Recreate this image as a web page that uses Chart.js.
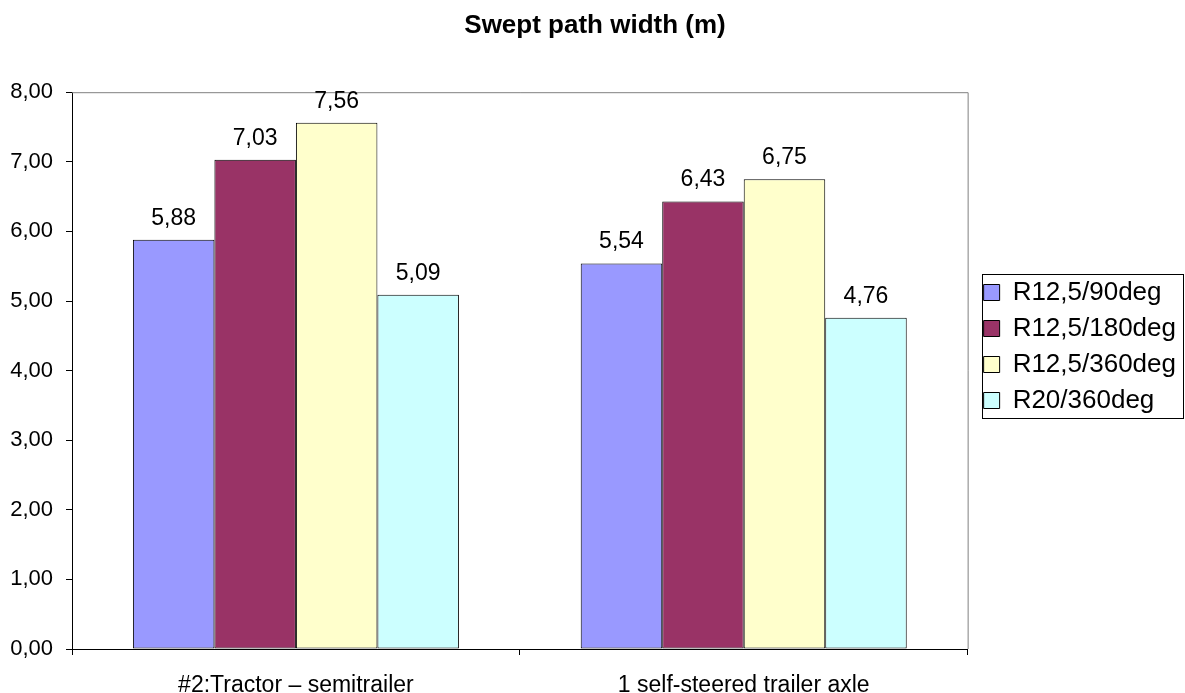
<!DOCTYPE html>
<html>
<head>
<meta charset="utf-8">
<script src="https://cdn.jsdelivr.net/npm/chart.js@4.4.0/dist/chart.umd.min.js"></script>
<style>
  html, body { margin: 0; padding: 0; background: #fff; }
  #wrap { width: 1185px; height: 693px; }
</style>
</head>
<body>
<div id="wrap"><canvas id="chart" width="1185" height="693"></canvas></div>
<script>
// chart data
const categories = ['#2:Tractor \u2013 semitrailer', '1 self-steered trailer axle'];
const seriesNames = ['R12,5/90deg', 'R12,5/180deg', 'R12,5/360deg', 'R20/360deg'];
const seriesColors = ['#9999FF', '#993366', '#FFFFCC', '#CCFFFF'];
const r125_90 = [5.88, 5.54];
const r125_180 = [7.03, 6.43];
const r125_360 = [7.56, 6.75];
const r20_360 = [5.09, 4.76];
const yTicks = [0, 1, 2, 3, 4, 5, 6, 7, 8];

const seriesValues = [r125_90, r125_180, r125_360, r20_360];
const FONT = "'Liberation Sans', Arial, sans-serif";
const fmt = v => v.toFixed(2).replace('.', ',');

// value labels above each bar
const valueLabels = {
    id: 'valueLabels',
    afterDatasetsDraw(chart) {
        const { ctx } = chart;
        ctx.save();
        ctx.font = '23px ' + FONT;
        ctx.fillStyle = '#000';
        ctx.textAlign = 'center';
        ctx.textBaseline = 'alphabetic';
        chart.data.datasets.forEach((ds, i) => {
            chart.getDatasetMeta(i).data.forEach((bar, j) => {
                ctx.fillText(fmt(ds.data[j]), bar.x, bar.y - 15);
            });
        });
        ctx.restore();
    }
};

// gray frame on top/right of plot, box round the legend
const frame = {
    id: 'frame',
    afterLayout(chart) {
        // small gap between plot and legend
        if (chart.legend) { chart.legend.left += 6; chart.legend.right += 6; }
    },
    beforeDatasetsDraw(chart) {
        const { ctx, chartArea: a } = chart;
        ctx.save();
        ctx.strokeStyle = '#808080';
        ctx.lineWidth = 1;
        ctx.beginPath();
        ctx.moveTo(a.left, a.top + 0.5);
        ctx.lineTo(a.right + 0.5, a.top + 0.5);
        ctx.lineTo(a.right + 0.5, a.bottom);
        ctx.stroke();
        ctx.restore();
    },
    afterDraw(chart) {
        const lg = chart.legend;
        if (!lg || !lg.legendHitBoxes.length) return;
        let x0 = Infinity, x1 = -Infinity, y0 = Infinity, y1 = -Infinity;
        lg.legendHitBoxes.forEach(b => {
            x0 = Math.min(x0, b.left); x1 = Math.max(x1, b.left + b.width);
            y0 = Math.min(y0, b.top); y1 = Math.max(y1, b.top + b.height);
        });
        const ctx = chart.ctx;
        ctx.save();
        ctx.strokeStyle = '#000';
        ctx.lineWidth = 1;
        ctx.strokeRect(Math.round(x0 - 2) + 0.5, Math.round(y0 - 6) + 0.5,
                       Math.round(x1 - x0 + 9), Math.round(y1 - y0 + 10));
        ctx.restore();
    }
};

new Chart(document.getElementById('chart'), {
    type: 'bar',
    data: {
        labels: categories,
        datasets: seriesNames.map((name, i) => ({
            label: name,
            data: seriesValues[i],
            backgroundColor: seriesColors[i],
            borderColor: '#000',
            borderWidth: 1,
            borderSkipped: false,
            categoryPercentage: 0.728,
            barPercentage: 1
        }))
    },
    options: {
        responsive: false,
        animation: false,
        layout: { padding: { left: 10, right: 5, top: 0, bottom: 0 } },
        plugins: {
            title: {
                display: true,
                text: 'Swept path width (m)',
                color: '#000',
                font: { family: FONT, size: 26, weight: 'bold' },
                padding: { top: 10, bottom: 51 }
            },
            legend: {
                position: 'right',
                labels: {
                    color: '#000',
                    font: { family: FONT, size: 26 },
                    boxWidth: 16,
                    boxHeight: 16,
                    padding: 10
                }
            },
            tooltip: { enabled: false }
        },
        scales: {
            x: {
                grid: { offset: true, drawOnChartArea: false, tickLength: 6, color: '#000' },
                border: { color: '#000' },
                ticks: { color: '#000', font: { family: FONT, size: 23 }, padding: 17, maxRotation: 0 },
                afterFit(scale) { scale.height = 44; }
            },
            y: {
                min: 0,
                max: 8,
                afterBuildTicks(scale) { scale.ticks = yTicks.map(v => ({ value: v })); },
                grid: { drawOnChartArea: false, tickLength: 6, color: '#000' },
                border: { color: '#000' },
                ticks: { color: '#000', font: { family: FONT, size: 22 }, padding: 13, callback: v => fmt(v) },
                afterFit(scale) { scale.width = 62; }
            }
        }
    },
    plugins: [valueLabels, frame]
});
</script>
</body>
</html>
